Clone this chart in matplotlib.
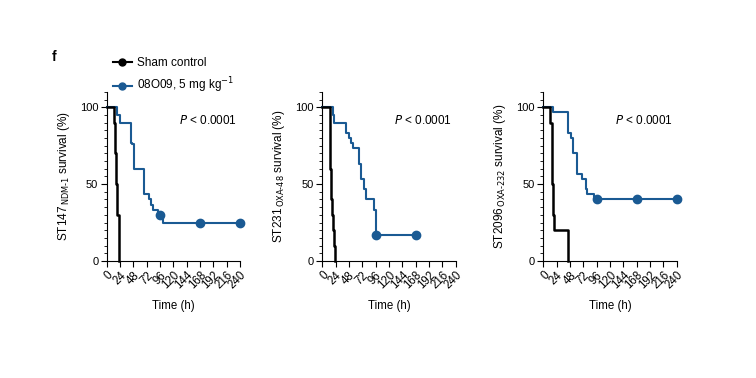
import numpy as np
import matplotlib.pyplot as plt
from matplotlib.ticker import MultipleLocator
from matplotlib.lines import Line2D

plt.rcParams['font.family'] = ['Liberation Sans', 'DejaVu Sans']
plt.rcParams['font.size'] = 8

# data
sham1_t = [0, 14, 15, 17, 19, 21.5, 23]
sham1_s = [100, 90, 70, 50, 30, 20, 0]
drug1_t = [0, 19, 24, 43, 46, 49, 67, 77, 80, 84, 93, 101, 240]
drug1_s = [100, 95, 90, 77, 76, 60, 43.3, 40, 36.7, 33.3, 30, 25, 25]
cens1_t = [96, 168, 240]
cens1_s = [30, 25, 25]

sham2_t = [0, 14, 15, 17, 20, 21.5, 23]
sham2_s = [100, 60, 40, 30, 20, 10, 0]
drug2_t = [0, 18.5, 21, 43.5, 47.5, 51, 55, 66, 70, 75, 78, 93, 96, 168]
drug2_s = [100, 95, 90, 83.3, 80, 76.7, 73.3, 63.3, 53.3, 46.7, 40, 33.3, 16.7, 16.7]
cens2_t = [96, 168]
cens2_s = [16.7, 16.7]

sham3_t = [0, 12, 15, 18, 20, 45]
sham3_s = [100, 90, 50, 30, 20, 0]
drug3_t = [0, 18, 44, 49, 54, 60, 69, 77, 79, 92, 240]
drug3_s = [100, 96.7, 83.3, 80, 70, 56.7, 53.3, 46.7, 43.3, 40, 40]
cens3_t = [96, 168, 240]
cens3_s = [40, 40, 40]

ylabels = [r'ST147$_{\,\mathrm{NDM\text{-}1}}$ survival (%)',
           r'ST231$_{\,\mathrm{OXA\text{-}48}}$ survival (%)',
           r'ST2096$_{\,\mathrm{OXA\text{-}232}}$ survival (%)']
xticks = np.arange(0, 241, 24)

blue = '#1a5a93'
fig = plt.figure(figsize=(7.56, 3.78), dpi=100)
lefts = [0.1411, 0.4263, 0.7187]
panels = [(sham1_t, sham1_s, drug1_t, drug1_s, cens1_t, cens1_s),
          (sham2_t, sham2_s, drug2_t, drug2_s, cens2_t, cens2_s),
          (sham3_t, sham3_s, drug3_t, drug3_s, cens3_t, cens3_s)]

for i, (st, ss, dt, ds, ct, cs) in enumerate(panels):
    ax = fig.add_axes([lefts[i], 0.3095, 0.1764, 0.4476])
    ax.step(dt, ds, where='post', color=blue, lw=1.5, clip_on=False, zorder=3)
    ax.plot(ct, cs, 'o', color=blue, ms=6, clip_on=False, zorder=4)
    ax.step(st, ss, where='post', color='black', lw=1.8, clip_on=False, zorder=5)
    ax.set_xlim(0, 240)
    ax.set_ylim(0, 110)
    ax.spines['top'].set_visible(False)
    ax.spines['right'].set_visible(False)
    ax.spines['left'].set_linewidth(0.8)
    ax.spines['bottom'].set_linewidth(0.8)
    ax.set_yticks([0, 50, 100])
    ax.yaxis.set_minor_locator(MultipleLocator(5))
    ax.set_xticks(xticks)
    ax.set_xticklabels([str(x) for x in xticks], rotation=45, ha='right',
                       rotation_mode='anchor', fontsize=8.3)
    ax.tick_params(which='major', length=4, width=0.8, pad=2)
    ax.tick_params(which='minor', length=2.5, width=0.6)
    ax.set_ylabel(ylabels[i], labelpad=6, fontsize=8.5)
    ax.set_xlabel('Time (h)', labelpad=6, fontsize=8.3)
    ax.text(0.54, 0.83, r'$P$ < 0.0001', transform=ax.transAxes,
            ha='left', va='center', fontsize=8.5)

fig.text(0.068, 0.85, 'f', fontsize=10, fontweight='bold', ha='left', va='center')
handles = [Line2D([], [], color='black', marker='o', ms=5, lw=1.5),
           Line2D([], [], color=blue, marker='o', ms=5, lw=1.5)]
fig.legend(handles, ['Sham control', r'08O09, 5 mg kg$^{-1}$'], loc='upper left',
           bbox_to_anchor=(0.149, 0.85), frameon=False, fontsize=8.5,
           handlelength=1.6, handletextpad=0.5, borderpad=0, borderaxespad=0,
           labelspacing=0.6)

fig.savefig('out.png', dpi=100)
